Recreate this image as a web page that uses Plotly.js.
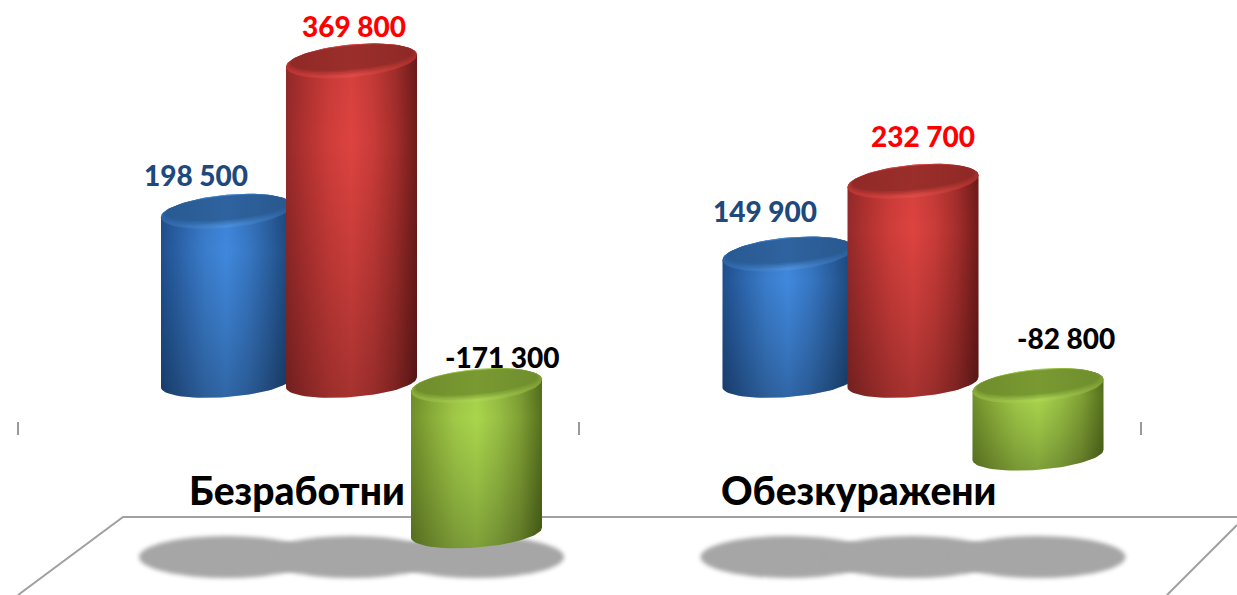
<!DOCTYPE html>
<html><head><meta charset="utf-8">
<script src="https://cdn.plot.ly/plotly-3.0.1.min.js"></script>
<style>
html,body{margin:0;padding:0;background:#fff;overflow:hidden}
.layer-below .shapelayer path{filter:blur(2px)}
</style></head><body>
<div id="chart" style="width:1237px;height:595px"></div>
<script>
// ---- data ----
const categories = ["Безработни", "Обезкуражени"];
const blueValues = [198500, 149900];
const redValues = [369800, 232700];
const greenValues = [-171300, -82800];
const categoryTicks = [-0.5, 0.5, 1.5];

// ---- scales ----
const W = 1237, H = 595;
const pxPerCat = 561.5, catZeroPx = 298.5;
const pxPerVal = 0.000878, zeroPx = 385.6;
const xRange = [(0 - catZeroPx) / pxPerCat, (W - catZeroPx) / pxPerCat];
const yRange = [(zeroPx - H) / pxPerVal, zeroPx / pxPerVal];
const dx = p => p / pxPerCat;      // pixels -> category units
const dy = p => p / pxPerVal;      // pixels -> value units (upwards)
const X = p => (p - catZeroPx) / pxPerCat;
const Y = p => (zeroPx - p) / pxPerVal;

// ---- styles ----
const RX = 65.5, TOP_RY = 16.5, TOP_TILT = 6, BOT_RY = 15, BOT_TILT = 5, BASE_LIFT = 3.5;
const seriesStyle = [
  {values: blueValues, off: -72,
   side: ["#1f4f8c", "#2d66ad", "#3a7cca", "#4088dd", "#3777c4", "#2a5f9f", "#1a4477"],
   rim: ["#2c62a3", "#4a8edb", "#295c99"], topFace: ["#285a92", "#2f639f", "#28588e"],
   labelColor: "#1f497d"},
  {values: redValues, off: 53,
   side: ["#95292a", "#b53331", "#cf3d3a", "#dd4340", "#c93b38", "#a52e2c", "#6e1c1a"],
   rim: ["#b73331", "#df4a46", "#a52d2a"], topFace: ["#8f2a27", "#9b2e2a", "#8f2926"],
   labelColor: "#ff0000"},
  {values: greenValues, off: 178,
   side: ["#6f8f2a", "#8aad39", "#9fc847", "#a9d54c", "#98bf44", "#7f9f34", "#55701c"],
   rim: ["#88ab3a", "#acd553", "#7d9e34"], topFace: ["#6f8d2c", "#799a32", "#6f8e2d"],
   labelColor: "#000000"}
];
const labelOffsets = {
  0: [[-31, 36], [-23, 43]],
  1: [[2, 35], [10, 45]],
  2: [[26, 29], [28, 48]]
};
const labelFont = "Lato, 'Open Sans', sans-serif";
const mix = (a, b, f) => {
  const p = c => [1, 3, 5].map(i => parseInt(c.substr(i, 2), 16));
  const A = p(a), B = p(b);
  return "rgb(" + A.map((v, i) => Math.round(v + (B[i] - v) * f)).join(",") + ")";
};
const scale = cols => cols.map((c, i) => [i / (cols.length - 1), c]);
const N = 72, tt = Array.from({length: N + 1}, (_, i) => 2 * Math.PI * i / N);

function ellipse(cx, yVal, rx, ry, tilt, pxDown) {
  return {
    x: tt.map(t => cx + dx(rx * Math.cos(t))),
    y: tt.map(t => yVal - dy(pxDown + ry * Math.sin(t) - tilt * Math.cos(t)))
  };
}
function shape(xy, grad) {
  return {type: "scatter", mode: "lines", x: xy.x, y: xy.y, fill: "toself", fillcolor: "rgba(0,0,0,0)",
          line: {width: 0}, hoverinfo: "skip", showlegend: false, fillgradient: grad};
}
function sideOutline(cx, top, bottom) {
  const half = tt.slice(0, N / 2 + 1);
  const xs = [], ys = [];
  half.forEach(t => {
    xs.push(cx + dx(RX * Math.cos(t)));
    ys.push(bottom - dy(-BASE_LIFT + BOT_RY * Math.sin(t) - BOT_TILT * Math.cos(t)));
  });
  half.forEach(t => {
    xs.push(cx - dx(RX * Math.cos(t)));
    ys.push(top - dy(-TOP_RY * Math.sin(t) + TOP_TILT * Math.cos(t)));
  });
  return {x: xs, y: ys};
}

// ---- traces ----
const traces = [{
  type: "scatter", mode: "lines", hoverinfo: "skip", showlegend: false,
  x: [X(18), X(123), X(W), null, X(W), X(1167)],
  y: [Y(H), Y(517), Y(517), null, Y(525), Y(H)],
  line: {color: "#a0a0a0", width: 2}
}];
const annotations = [];
const shapes = [];
seriesStyle.forEach((s, si) => {
  s.values.forEach((v, ci) => {
    const cx = ci + dx(s.off);
    const top = Math.max(v, 0), bottom = Math.min(v, 0);
    const outline = sideOutline(cx, top, bottom);
    traces.push(shape(outline, {type: "horizontal", colorscale: scale(s.side)}));
    traces.push(shape(outline, {type: "vertical", colorscale: [
      [0, "rgba(0,0,0,0.25)"], [0.35, "rgba(0,0,0,0.12)"], [0.72, "rgba(0,0,0,0)"], [1, "rgba(0,0,0,0.05)"]]}));
    traces.push(shape(ellipse(cx, top, RX, TOP_RY, TOP_TILT, 0), {type: "horizontal", colorscale: scale(s.rim)}));
    // soft bevel: steps from the rim colour to the face colour
    [0.25, 0.5, 0.75, 1].forEach(f => {
      const cols = s.rim.map((c, i) => mix(c, s.topFace[i], f));
      traces.push(shape(ellipse(cx, top, RX - 1 - 3.5 * f, TOP_RY - 1 - 3.5 * f, TOP_TILT - 0.5 * f, -0.6 - 2.6 * f),
        {type: "horizontal", colorscale: scale(cols)}));
    });

    const [ox, oy] = labelOffsets[si][ci];
    annotations.push({
      x: cx, y: top, xref: "x", yref: "y", xshift: ox, yshift: oy,
      text: String(v).replace(/(\d)(?=(\d{3})+$)/g, "$1 "),
      showarrow: false, xanchor: "center", yanchor: "middle",
      font: {family: labelFont, size: 28, color: s.labelColor, weight: 900}
    });
    // floor shadows
    shapes.push({type: "circle", layer: "below", xref: "x", yref: "paper",
      x0: cx - dx(87.5), x1: cx + dx(87.5), y0: 1 - 578 / H, y1: 1 - 536 / H,
      fillcolor: "#a6a6a6", line: {width: 0}});
  });
});
categories.forEach((c, i) => annotations.push({
  x: i, xshift: -1.5, y: 1 - 490 / H, xref: "x", yref: "paper", text: c, showarrow: false,
  xanchor: "center", yanchor: "middle",
  font: {family: labelFont, size: 39, color: "#000", weight: 900}
}));

const layout = {
  width: W, height: H, margin: {l: 0, r: 0, t: 0, b: 0},
  paper_bgcolor: "#fff", plot_bgcolor: "rgba(0,0,0,0)", showlegend: false,
  xaxis: {range: xRange, tickmode: "array", tickvals: categoryTicks, showticklabels: false,
    ticks: "outside", ticklen: 13, tickwidth: 2, tickcolor: "#999999",
    showgrid: false, zeroline: false, showline: false, anchor: "free", position: 1 - 421 / H, fixedrange: true},
  yaxis: {range: yRange, visible: false, showgrid: false, zeroline: false, fixedrange: true},
  annotations, shapes
};
Plotly.newPlot("chart", traces, layout, {displayModeBar: false, staticPlot: true});
</script></body></html>
